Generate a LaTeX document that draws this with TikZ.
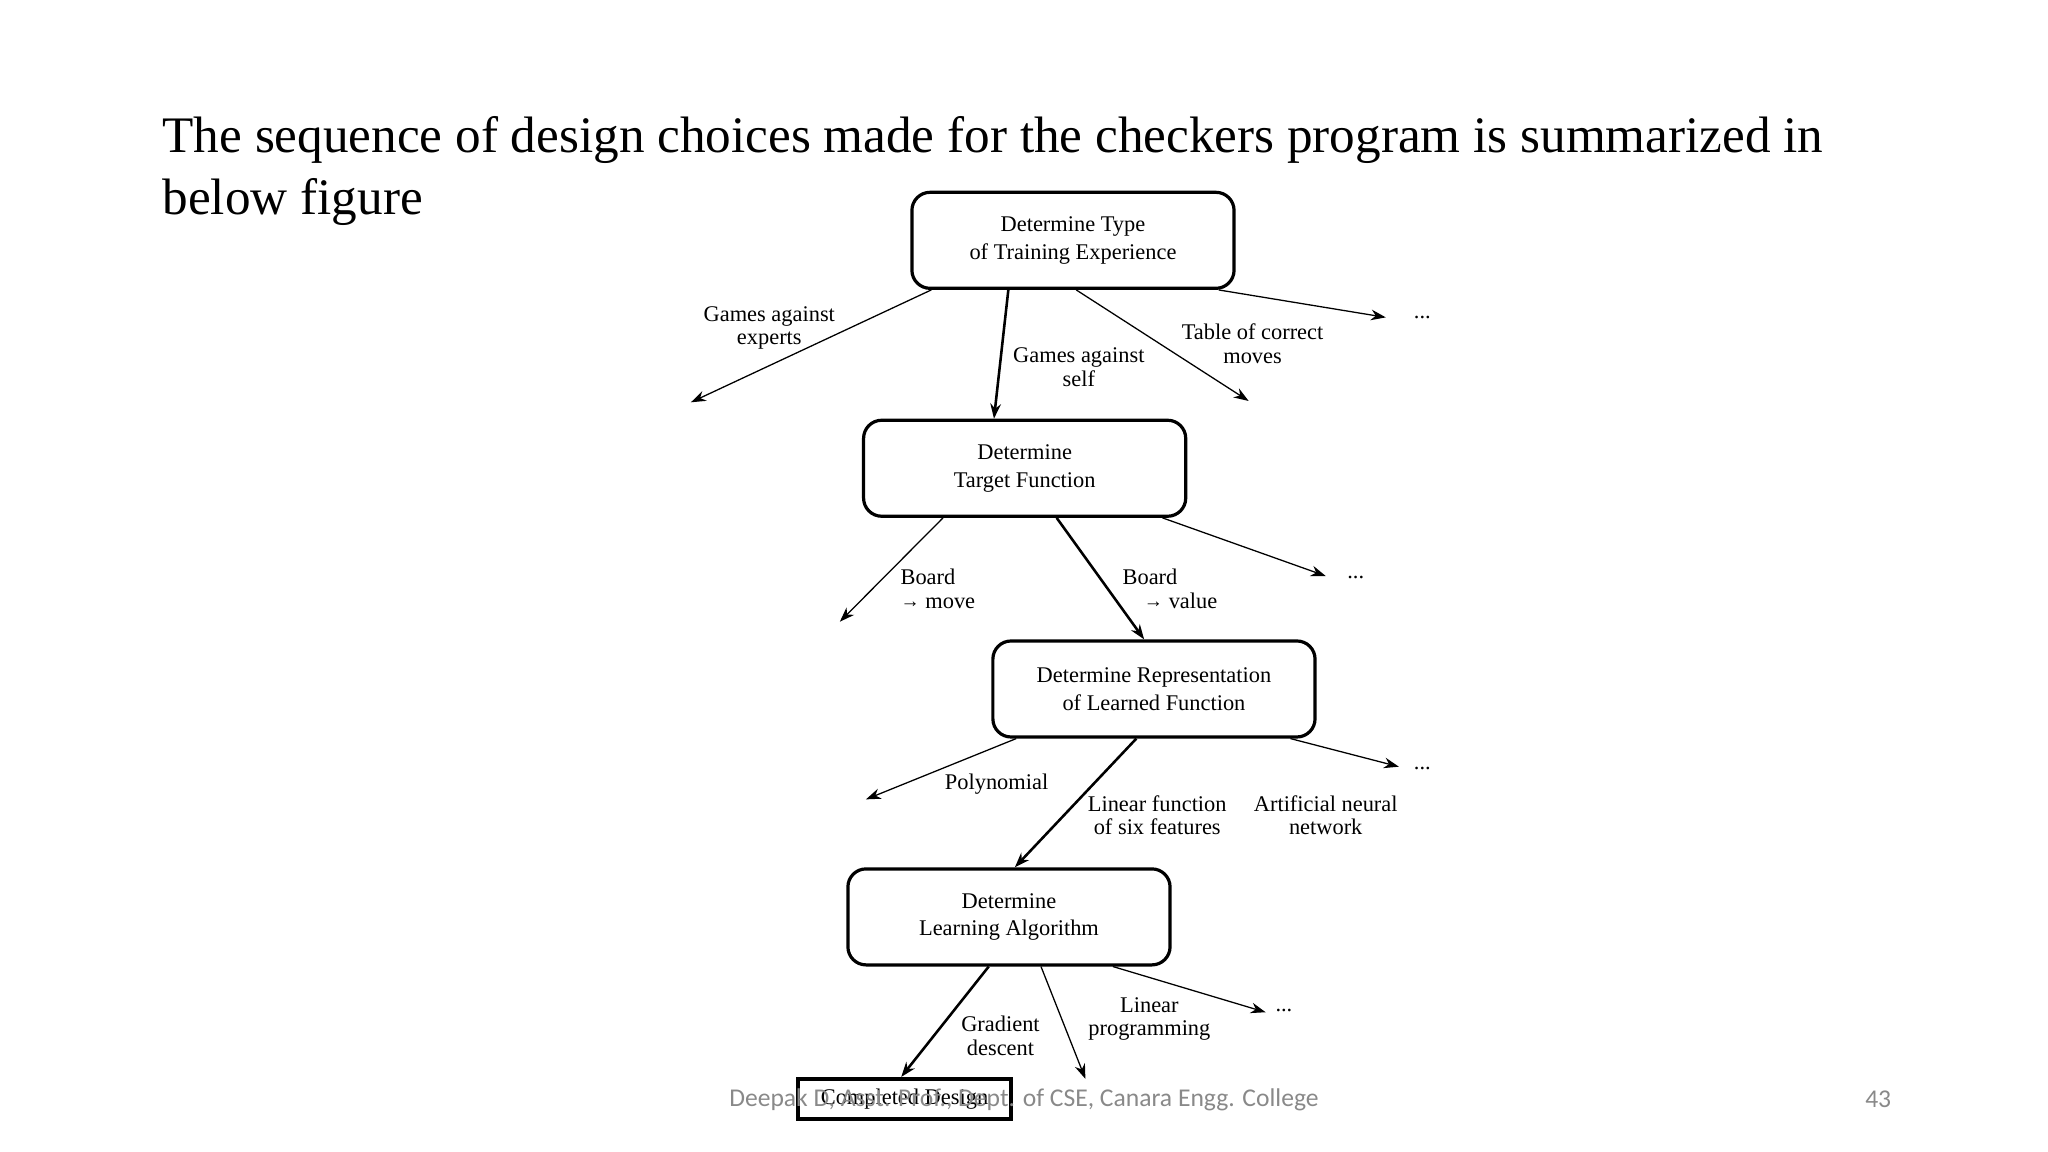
\documentclass[tikz,border=0pt]{standalone}
\usepackage{fontspec}
\setmainfont{Liberation Serif}
\newfontfamily\footfont{Carlito}
\usetikzlibrary{arrows.meta,calc}

\definecolor{footgray}{RGB}{137,137,137}

\tikzset{every picture/.style={line width=0.6pt}}
\tikzset{
  choice/.style={draw,rounded corners=8.5pt,line width=1.5pt,minimum width=151pt,minimum height=45pt,inner sep=0pt,align=center,font=\fontsize{10.5}{12.9}\selectfont},
  done/.style={draw,line width=1.8pt,minimum width=100pt,minimum height=19pt,inner sep=0pt,font=\fontsize{10.5}{12.9}\selectfont},
  lbl/.style={inner sep=0pt,align=center,font=\fontsize{10.5}{11}\selectfont},
  opt/.style={line width=0.6pt,-{Stealth[length=7pt,width=5pt]}},
  pick/.style={line width=1.2pt,-{Stealth[length=7pt,width=5pt]}},
}
\newcommand{\smallarrow}{\raisebox{0.6pt}{\fontsize{9}{9}\selectfont →}}

\begin{document}
\begin{tikzpicture}[x=0.6122pt,y=0.6122pt,yscale=-1,xscale=1]
\useasboundingbox (0,0) rectangle (1568,882);

% Title
\node (titleA) [anchor=base west,inner sep=0pt,font=\fontsize{24}{28.8}\selectfont] at (124,117) {The sequence of design choices made for the checkers program is summarized in};
\node (titleB) [anchor=base west,inner sep=0pt,font=\fontsize{24}{28.8}\selectfont] at (124,164) {below figure};

% Boxes
\node (typeBox) [choice] at (821.5,184) {Determine Type\\of Training Experience};
\node (targetBox) [choice] at (784.5,358.5) {Determine\\Target Function};
\node (reprBox) [choice] at (883.5,527.5) {Determine Representation\\of Learned Function};
\node (algoBox) [choice] at (772.5,702) {Determine\\Learning Algorithm};
\node (doneBox) [done] at (692.5,841.5) {Completed Design};

% free ends
\coordinate (expertsEnd) at (529,308);
\coordinate (tableEnd) at (956,307);
\coordinate (moreA) at (1061,243);
\coordinate (moveEnd) at (643,476);
\coordinate (moreB) at (1015,441);
\coordinate (polyEnd) at (663,612);
\coordinate (moreC) at (1071,587);
\coordinate (linprogEnd) at (831,826);
\coordinate (moreD) at (969,775);

% Training experience
\draw [opt] ($(typeBox.south)+(-108.5,0)$) -- (expertsEnd);
\draw [pick] ($(typeBox.south)+(-49.5,0)$) -- ($(targetBox.north)+(-23.5,0)$);
\draw [opt] ($(typeBox.south)+(2.5,0)$) -- (tableEnd);
\draw [opt] ($(typeBox.south)+(111.5,0)$) -- (moreA);
\node (expertsLbl) [lbl] at (589,251) {Games against\\experts};
\node (selfLbl) [lbl] at (826,281) {Games against\\self};
\node (tableLbl) [lbl] at (959,263) {Table of correct\\moves};
\node (dotsA) [lbl] at (1089,243) {...};

% Target function
\draw [opt] ($(targetBox.south)+(-62.5,0)$) -- (moveEnd);
\draw [pick] ($(targetBox.south)+(24.5,0)$) -- ($(reprBox.north)+(-7.5,0)$);
\draw [opt] ($(targetBox.south)+(105.5,0)$) -- (moreB);
\node (moveLbl) [lbl,align=left,anchor=west] at (689,451) {Board\\\smallarrow{} move};
\node (valueLbl) [lbl,align=left,anchor=west] at (859,451) {Board\\\hspace*{10pt}\smallarrow{} value};
\node (dotsB) [lbl] at (1038,442) {...};

% Representation
\draw [opt] ($(reprBox.south)+(-105.5,0)$) -- (polyEnd);
\draw [pick] ($(reprBox.south)+(-13.5,0)$) -- ($(algoBox.north)+(4.5,0)$);
\draw [opt] ($(reprBox.south)+(104.5,0)$) -- (moreC);
\node (polyLbl) [lbl] at (763,600) {Polynomial};
\node (linfLbl) [lbl] at (886,624) {Linear function\\of six features};
\node (annLbl) [lbl] at (1015,624) {Artificial neural\\network};
\node (dotsC) [lbl] at (1089,588) {...};

% Learning algorithm
\draw [pick] ($(algoBox.south)+(-15.5,0)$) -- ($(doneBox.north)+(-2.5,0)$);
\draw [opt] ($(algoBox.south)+(24.5,0)$) -- (linprogEnd);
\draw [opt] ($(algoBox.south)+(79.5,0)$) -- (moreD);
\node (gradLbl) [lbl] at (766,793) {Gradient\\descent};
\node (linprogLbl) [lbl] at (880,780) {Linear\\programming};
\node (dotsD) [lbl] at (983,774) {...};

% Footer
\node (footer) [inner sep=0pt,text=footgray,font=\footfont\fontsize{12}{14}\selectfont] at (784,842) {Deepak D, Asst. Prof., Dept. of CSE, Canara Engg. College};
\node (pageNo) [inner sep=0pt,text=footgray,font=\footfont\fontsize{12}{14}\selectfont] at (1438,842) {43};

\end{tikzpicture}
\end{document}
